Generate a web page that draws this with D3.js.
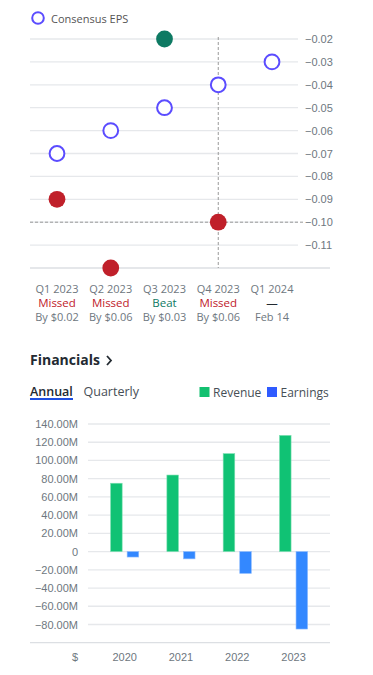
<!DOCTYPE html>
<html>
<head>
<meta charset="utf-8">
<script src="https://cdn.jsdelivr.net/npm/d3@7/dist/d3.min.js"></script>
<style>
  html, body { margin: 0; padding: 0; background: #fff; }
  svg { display: block; }
</style>
</head>
<body>
<svg id="chart" width="373" height="675"></svg>
<script>
// ---------- EPS data ----------
const quarters = ["Q1 2023", "Q2 2023", "Q3 2023", "Q4 2023", "Q1 2024"];
const estimateEPS = [-0.07, -0.06, -0.05, -0.04, -0.03];
const actualEPS = [-0.09, -0.12, -0.02, -0.10, null];
const surpriseStatus = ["Missed", "Missed", "Beat", "Missed", "—"];
const surpriseDetail = ["By $0.02", "By $0.06", "By $0.03", "By $0.06", "Feb 14"];
const epsTicks = [-0.02, -0.03, -0.04, -0.05, -0.06, -0.07, -0.08, -0.09, -0.10, -0.11];
const highlightIndex = 3;

// ---------- Financials data ----------
const years = ["2020", "2021", "2022", "2023"];
const revenue = [75e6, 84e6, 107.5e6, 127.5e6];
const earnings = [-6e6, -8e6, -24e6, -85e6];
const finTicks = [140e6, 120e6, 100e6, 80e6, 60e6, 40e6, 20e6, 0, -20e6, -40e6, -60e6, -80e6];
const seriesNames = ["Revenue", "Earnings"];

const svg = d3.select("#chart");
const gray = "#6e7780";
const gridColor = "#e6e8eb";
const purple = "#5b4cff";
const missColor = "#c0202a";
const beatColor = "#0e7a63";
const sans = "'Open Sans', sans-serif";
const arial = "'Liberation Sans', Arial, sans-serif";

// ===== EPS chart =====
const xq = d3.scalePoint().domain(quarters).range([57, 272]);
const ye = d3.scaleLinear().domain([-0.12, -0.02]).range([268, 39]);

// legend
svg.append("circle").attr("cx", 38).attr("cy", 18).attr("r", 5.8)
  .attr("fill", "#fff").attr("stroke", purple).attr("stroke-width", 2);
svg.append("text").attr("x", 51).attr("y", 22.5).text("Consensus EPS")
  .attr("font-family", sans).attr("font-size", 11).attr("fill", "#555");

// grid
const eg = svg.append("g");
eg.selectAll("line.g").data(epsTicks).join("line")
  .attr("x1", 30).attr("x2", 298)
  .attr("y1", d => ye(d)).attr("y2", d => ye(d))
  .attr("stroke", gridColor).attr("stroke-width", 1.3);
eg.append("line").attr("x1", 30).attr("x2", 330)
  .attr("y1", ye(-0.12)).attr("y2", ye(-0.12))
  .attr("stroke", "#dcdfe3").attr("stroke-width", 1.3);

// y axis labels (right)
const yAxis = d3.axisRight(ye).tickValues(epsTicks).tickSize(0).tickPadding(0)
  .tickFormat(d3.format(".2f"));
const ya = svg.append("g").attr("transform", "translate(305,0)").call(yAxis);
ya.select(".domain").remove();
ya.selectAll("text").attr("font-family", arial).attr("font-size", 11).attr("fill", gray);

// crosshair
svg.append("line")
  .attr("x1", xq(quarters[highlightIndex])).attr("x2", xq(quarters[highlightIndex]))
  .attr("y1", 37).attr("y2", 268)
  .attr("stroke", "#999").attr("stroke-width", 1).attr("stroke-dasharray", "3,2");
svg.append("line")
  .attr("x1", 30).attr("x2", 304)
  .attr("y1", ye(actualEPS[highlightIndex])).attr("y2", ye(actualEPS[highlightIndex]))
  .attr("stroke", "#999").attr("stroke-width", 1).attr("stroke-dasharray", "3,2");

// estimate circles
svg.append("g").selectAll("circle").data(quarters).join("circle")
  .attr("cx", d => xq(d)).attr("cy", (d, i) => ye(estimateEPS[i]))
  .attr("r", 7.4).attr("fill", "#fff").attr("stroke", purple).attr("stroke-width", 2);

// actual circles
const actualData = quarters.map((q, i) => ({ q, v: actualEPS[i], s: surpriseStatus[i] }))
  .filter(d => d.v !== null);
svg.append("g").selectAll("circle").data(actualData).join("circle")
  .attr("cx", d => xq(d.q)).attr("cy", d => ye(d.v))
  .attr("r", 8.4).attr("fill", d => d.s === "Beat" ? beatColor : missColor);

// x labels
const xl = svg.append("g");
quarters.forEach((q, i) => {
  const x = xq(q);
  xl.append("text").attr("x", x).attr("y", 293).attr("text-anchor", "middle")
    .attr("font-family", sans).attr("font-size", 11).attr("fill", gray).text(q);
  const st = surpriseStatus[i];
  xl.append("text").attr("x", x).attr("y", 307).attr("text-anchor", "middle")
    .attr("font-family", sans).attr("font-size", 11.5)
    .attr("fill", st === "Beat" ? beatColor : (st === "Missed" ? missColor : "#232a31"))
    .text(st);
  xl.append("text").attr("x", x).attr("y", 321).attr("text-anchor", "middle")
    .attr("font-family", sans).attr("font-size", 11).attr("fill", gray).text(surpriseDetail[i]);
});

// ===== Financials header =====
svg.append("text").attr("x", 30).attr("y", 365).text("Financials")
  .attr("font-family", sans).attr("font-size", 14).attr("font-weight", 700).attr("fill", "#232a31");
svg.append("path").attr("d", "M107,356 L111,360.5 L107,365")
  .attr("fill", "none").attr("stroke", "#232a31").attr("stroke-width", 1.8);

svg.append("text").attr("x", 30).attr("y", 396).text("Annual")
  .attr("font-family", sans).attr("font-size", 12.5).attr("font-weight", 600).attr("fill", "#232a31");
svg.append("rect").attr("x", 30).attr("y", 398).attr("width", 43).attr("height", 2).attr("fill", "#1f4fe0");
svg.append("text").attr("x", 83.5).attr("y", 396).text("Quarterly")
  .attr("font-family", sans).attr("font-size", 12.5).attr("fill", "#464e56");

const legendColors = ["#13c070", "#2f5bff"];
const legendX = [199.5, 267];
seriesNames.forEach((n, i) => {
  svg.append("rect").attr("x", legendX[i]).attr("y", 387).attr("width", 10).attr("height", 10)
    .attr("fill", legendColors[i]);
  svg.append("text").attr("x", legendX[i] + 13.5).attr("y", 396.5).text(n)
    .attr("font-family", sans).attr("font-size", 12).attr("fill", "#464e56");
});

// ===== Financials bar chart =====
const xb = d3.scaleBand().domain(years).range([96.5, 321.7]).paddingInner(0.5).paddingOuter(0.25);
const xs = d3.scaleBand().domain(seriesNames).range([0, xb.bandwidth()]).paddingInner(0.3);
const yb = d3.scaleLinear().domain([-100e6, 140e6]).range([642.7, 424]);

const bg = svg.append("g");
bg.selectAll("line").data(finTicks).join("line")
  .attr("x1", 88).attr("x2", 330)
  .attr("y1", d => yb(d)).attr("y2", d => yb(d))
  .attr("stroke", gridColor).attr("stroke-width", 1.3);
bg.append("line").attr("x1", 30).attr("x2", 330)
  .attr("y1", yb(-100e6)).attr("y2", yb(-100e6))
  .attr("stroke", "#dcdfe3").attr("stroke-width", 1.3);

const fmtM = d => d === 0 ? "0" : d3.format(".2f")(d / 1e6) + "M";
const yba = svg.append("g").attr("transform", "translate(78,0)")
  .call(d3.axisLeft(yb).tickValues(finTicks).tickSize(0).tickPadding(0).tickFormat(fmtM));
yba.select(".domain").remove();
yba.selectAll("text").attr("font-family", arial).attr("font-size", 11).attr("fill", gray);

const barSeries = [revenue, earnings];
const barColors = ["#10c274", "#3388ff"];
const barStroke = ["#7fe0b3", "#8fbcff"];
seriesNames.forEach((n, si) => {
  svg.append("g").selectAll("rect").data(years).join("rect")
    .attr("x", d => xb(d) + xs(n))
    .attr("width", xs.bandwidth())
    .attr("y", (d, i) => yb(Math.max(0, barSeries[si][i])))
    .attr("height", (d, i) => Math.abs(yb(barSeries[si][i]) - yb(0)))
    .attr("fill", barColors[si])
    .attr("stroke", barStroke[si]).attr("stroke-width", 0.6);
});

// x axis labels
const xba = svg.append("g").attr("transform", "translate(0,661)")
  .call(d3.axisBottom(xb).tickSize(0).tickPadding(0));
xba.select(".domain").remove();
xba.selectAll("text").attr("dy", 0).attr("font-family", arial).attr("font-size", 11).attr("fill", gray);
svg.append("text").attr("x", 78).attr("y", 661).attr("text-anchor", "end").text("$")
  .attr("font-family", arial).attr("font-size", 11).attr("fill", gray);
</script>
</body>
</html>
